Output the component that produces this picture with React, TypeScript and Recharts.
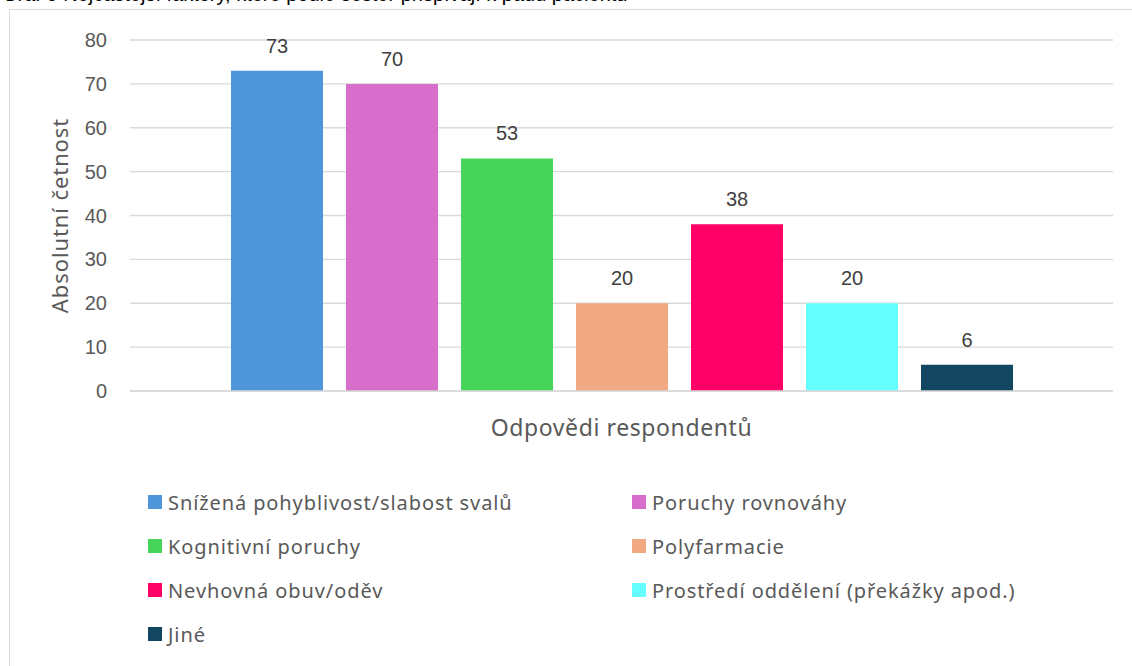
import { BarChart, Bar, XAxis, YAxis, CartesianGrid, LabelList } from 'recharts'

// data
const categories = ['Odpovědi respondentů']
const seriesNames = [
  'Snížená pohyblivost/slabost svalů',
  'Poruchy rovnováhy',
  'Kognitivní poruchy',
  'Polyfarmacie',
  'Nevhovná obuv/oděv',
  'Prostředí oddělení (překážky apod.)',
  'Jiné',
]
const seriesValues = [73, 70, 53, 20, 38, 20, 6]
const seriesColors = ['#4E95D9', '#D86ECC', '#47D45A', '#F1A983', '#FF0066', '#66FFFF', '#124661']
const yTicks = [0, 10, 20, 30, 40, 50, 60, 70, 80]
const captionText = 'Graf 9 Nejčastější faktory, které podle sester přispívají k pádu pacientů'

const data = categories.map((name) => {
  const row: Record<string, string | number> = { name }
  seriesValues.forEach((v, i) => {
    row['s' + i] = v
  })
  return row
})

const TEXT = '#595959'

export default function App() {
  return (
    <div style={{ position: 'fixed', left: 0, top: 0, width: 1132, height: 666, overflow: 'hidden', background: '#fff' }}>
      {/* caption of the document, cut off by the crop */}
      <div style={{ position: 'absolute', left: 2, top: -17, fontFamily: 'Liberation Sans, Arial, sans-serif', fontSize: 20, color: '#000', whiteSpace: 'nowrap' }}>
        {captionText}
      </div>
      {/* chart frame */}
      <div style={{ position: 'absolute', left: 9, top: 9, width: 1200, height: 700, border: '1px solid #d9d9d9', boxSizing: 'border-box' }} />

      <div style={{ position: 'absolute', left: -1, top: 0 }}>
        <BarChart
          width={1133}
          height={666}
          data={data}
          margin={{ top: 40, right: 19, bottom: 215, left: 61 }}
          barSize={92}
          barGap={23}
        >
          <CartesianGrid vertical={false} stroke="#d9d9d9" strokeWidth={1.3} />
          <XAxis
            dataKey="name"
            height={60}
            axisLine={{ stroke: '#d9d9d9', strokeWidth: 1.3 }}
            tickLine={false}
            tickSize={0}
            tickMargin={29}
            tick={{ fill: TEXT, fontSize: 23, fontFamily: 'Noto Sans, sans-serif', letterSpacing: 0.6 }}
          />
          <YAxis
            width={70}
            domain={[0, 80]}
            ticks={yTicks}
            axisLine={false}
            tickLine={false}
            tickSize={0}
            tickMargin={23}
            tick={{ fill: TEXT, fontSize: 20, fontFamily: 'Liberation Sans, Arial, sans-serif' }}
            label={{
              value: 'Absolutní četnost',
              angle: -90,
              position: 'center',
              dx: -35,
              fill: TEXT,
              fontSize: 22,
              fontFamily: 'Noto Sans, sans-serif',
              letterSpacing: 0.9,
            }}
          />
          {seriesNames.map((name, i) => (
            <Bar key={name} dataKey={'s' + i} name={name} fill={seriesColors[i]} isAnimationActive={false}>
              <LabelList
                dataKey={'s' + i}
                position="top"
                offset={18}
                fill="#404040"
                fontSize={20}
                fontFamily="Liberation Sans, Arial, sans-serif"
              />
            </Bar>
          ))}
        </BarChart>
      </div>

      {/* legend, two columns, row-major like the reference */}
      {seriesNames.map((name, i) => {
        const col = i % 2
        const row = Math.floor(i / 2)
        return (
          <div
            key={name}
            style={{
              position: 'absolute',
              left: col === 0 ? 148 : 632,
              top: 502 + row * 44 - 14,
              height: 28,
              display: 'flex',
              alignItems: 'center',
              whiteSpace: 'nowrap',
              fontFamily: 'Noto Sans, sans-serif',
              fontSize: 20,
              letterSpacing: 0.9,
              color: TEXT,
            }}
          >
            <span style={{ display: 'inline-block', width: 14, height: 14, background: seriesColors[i], marginRight: 6 }} />
            {name}
          </div>
        )
      })}
    </div>
  )
}
